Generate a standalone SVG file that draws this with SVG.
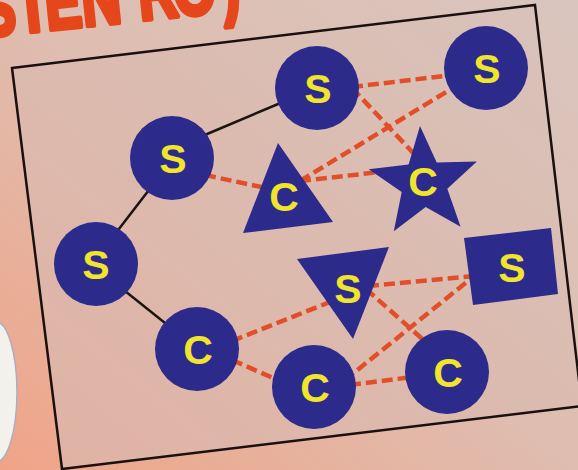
<svg xmlns="http://www.w3.org/2000/svg" width="578" height="470" viewBox="0 0 578 470">
  <defs>
    <linearGradient id="bg" x1="1" y1="0" x2="0" y2="1">
      <stop offset="0" stop-color="#d9c5be"/>
      <stop offset="0.5" stop-color="#dfbdb0"/>
      <stop offset="1" stop-color="#f0a487"/>
    </linearGradient>
    <linearGradient id="panel" x1="1" y1="0" x2="0" y2="1">
      <stop offset="0" stop-color="#d8c3bb"/>
      <stop offset="1" stop-color="#e0b2a3"/>
    </linearGradient>
    <style>
      .node { fill: #2c2a8a; }
      .lbl { fill: #f0e42c; font-family: "Liberation Sans", Arial, sans-serif; font-weight: bold; font-size: 41px; text-anchor: middle; }
      .solid { stroke: #1b1512; stroke-width: 2.5; fill: none; }
      .dash { stroke: #e24e28; stroke-width: 4.5; stroke-dasharray: 11 5; fill: none; }
      .head { fill: #e5461b; stroke: #e5461b; stroke-width: 5; stroke-linejoin: round; font-family: "Liberation Sans", Arial, sans-serif; font-weight: bold; font-size: 76px; }
    </style>
  </defs>

  <rect x="0" y="0" width="578" height="470" fill="url(#bg)"/>
  <ellipse cx="-4" cy="392" rx="21" ry="70" fill="#f3f1ec" stroke="#aeadc0" stroke-width="1.5"/>
  <text class="head" transform="rotate(-6 0 35) scale(0.72 1)" x="-26 38 66 117 165 196 245 312" y="35">SIEN RO)</text>

  <polygon id="panel-frame" points="12,68 535,5 582,406 62,469" fill="url(#panel)" stroke="#1a1010" stroke-width="2.5" stroke-linejoin="miter"/>

  <g id="connectors">
    <line class="solid" x1="200" y1="137" x2="290" y2="99"/>
    <line class="solid" x1="152" y1="186" x2="112" y2="238"/>
    <line class="solid" x1="120" y1="287" x2="170" y2="327"/>
    <line class="dash" x1="352" y1="87" x2="452" y2="75"/>
    <line class="dash" x1="352" y1="88" x2="416" y2="156"/>
    <line class="dash" x1="300" y1="181" x2="456" y2="86"/>
    <line class="dash" x1="300" y1="181" x2="380" y2="172"/>
    <line class="dash" x1="205" y1="175" x2="266" y2="188"/>
    <line class="dash" x1="232" y1="341" x2="335" y2="300"/>
    <line class="dash" x1="232" y1="360" x2="280" y2="381"/>
    <line class="dash" x1="368" y1="286" x2="475" y2="276"/>
    <line class="dash" x1="366" y1="289" x2="428" y2="344"/>
    <line class="dash" x1="345" y1="380" x2="478" y2="273"/>
    <line class="dash" x1="350" y1="385" x2="412" y2="377"/>
  </g>

  <g id="s-top">
    <circle class="node" cx="317" cy="88" r="42"/>
    <text class="lbl" x="318" y="103">S</text>
  </g>
  <g id="s-top-right">
    <circle class="node" cx="486" cy="68" r="42"/>
    <text class="lbl" x="487" y="83">S</text>
  </g>
  <g id="s-upper-left">
    <circle class="node" cx="172" cy="158" r="42"/>
    <text class="lbl" x="173" y="173">S</text>
  </g>
  <g id="s-left">
    <circle class="node" cx="96" cy="264" r="42"/>
    <text class="lbl" x="96" y="279">S</text>
  </g>
  <g id="c-triangle">
    <polygon class="node" points="278,143 243,233 333,222"/>
    <text class="lbl" x="284" y="211">C</text>
  </g>
  <g id="c-star">
    <polygon class="node" points="420,126 436.7,162.6 476.9,161.6 447.3,188.8 460.6,226.7 425.7,206.9 393.8,231.3 401.7,192 368.7,169.2 408.6,164.6"/>
    <text class="lbl" x="423" y="196">C</text>
  </g>
  <g id="s-inv-triangle">
    <polygon class="node" points="297,259 389,247 353,339"/>
    <text class="lbl" x="348" y="303">S</text>
  </g>
  <g id="s-square">
    <polygon class="node" points="464,238 551,228 558,294 473,305"/>
    <text class="lbl" x="512" y="282">S</text>
  </g>
  <g id="c-left">
    <circle class="node" cx="197" cy="349" r="42"/>
    <text class="lbl" x="198" y="364">C</text>
  </g>
  <g id="c-bottom">
    <circle class="node" cx="314" cy="387" r="42"/>
    <text class="lbl" x="315" y="402">C</text>
  </g>
  <g id="c-bottom-right">
    <circle class="node" cx="447" cy="372" r="42"/>
    <text class="lbl" x="448" y="387">C</text>
  </g>
</svg>
